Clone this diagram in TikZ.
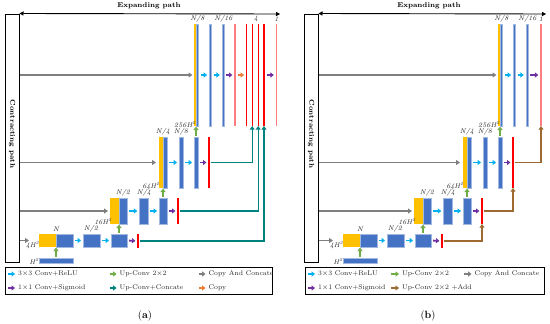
\documentclass[tikz,border=0pt]{standalone}
\usetikzlibrary{arrows.meta}
\definecolor{yel}{HTML}{FFC000}
\definecolor{blu}{HTML}{4472C4}
\definecolor{cya}{HTML}{00B0F0}
\definecolor{pur}{HTML}{7030A0}
\definecolor{grn}{HTML}{70AD47}
\definecolor{gry}{HTML}{7F7F7F}
\definecolor{tea}{HTML}{00827F}
\definecolor{ora}{HTML}{ED7D31}
\definecolor{rd}{HTML}{FF0000}
\definecolor{sal}{HTML}{FF7C80}
\definecolor{brn}{HTML}{9C6A32}
\tikzset{
  yb/.style={fill=yel, inner sep=0pt, outer sep=0pt},
  bb/.style={fill=blu, draw=blu!50!white, line width=0.4pt, inner sep=0pt, outer sep=0pt},
  rb/.style={fill=rd, inner sep=0pt, outer sep=0pt},
  sb/.style={fill=sal, inner sep=0pt, outer sep=0pt},
  sa/.style={line width=1.8pt, -{Triangle[length=3.4pt,width=5pt]}, shorten <=2pt, shorten >=2pt},
  va/.style={grn, line width=1.8pt, -{Triangle[length=3.4pt,width=5pt]}, shorten <=1.5pt, shorten >=0.6pt},
  la/.style={line width=1.8pt, -{Triangle[length=3.4pt,width=5pt]}},
  ga/.style={gry, line width=1.4pt, -{Triangle[length=4pt,width=5pt]}},
  ta/.style={tea, line width=1.3pt, -{Triangle[length=3.6pt,width=4.8pt]}},
  bra/.style={brn, line width=1.3pt, -{Triangle[length=3.6pt,width=4.8pt]}},
  lab/.style={font=\fontsize{6.8}{7.5}\selectfont\itshape, inner sep=0pt, text=black!85},
  lt/.style={font=\fontsize{6.8}{8}\selectfont, anchor=west, inner sep=0pt, text=black!85},
  ttl/.style={font=\fontsize{7}{8}\selectfont\bfseries, inner sep=0pt},
  cbox/.style={draw, line width=1pt, inner sep=0pt, minimum width=14pt, minimum height=248pt},
  lbox/.style={draw, line width=0.9pt, inner sep=0pt, minimum height=27pt},
  dbl/.style={line width=0.9pt, {Triangle[length=4pt,width=4.2pt]}-{Triangle[length=4pt,width=4.2pt]}},
  captxt/.style={font=\fontsize{10.5}{12}\selectfont, inner sep=0pt}
}
\newcommand\mk[6]{\node[#1, minimum width=#5pt, minimum height=#6pt] (#2) at (#3,#4) {};}
\newcommand\common[2]{%
  % row 4
  \mk{yb}{#1y4}{195}{75}{2}{102}
  \mk{bb}{#1b4a}{197.3}{75}{2.4}{102}
  \mk{bb}{#1b4b}{210.3}{75}{2.4}{102}
  \mk{bb}{#1b4c}{223}{75}{2.4}{102}
  % row 3
  \mk{yb}{#1y3}{161}{162.5}{4}{51}
  \mk{bb}{#1b3a}{165}{162.5}{4}{51}
  \mk{bb}{#1b3b}{181}{162.5}{4}{51}
  \mk{bb}{#1b3c}{196}{162.5}{4}{51}
  \mk{rb}{#1r3}{209}{162.5}{1.2}{51}
  % row 2
  \mk{yb}{#1y2}{114.5}{211}{9}{26}
  \mk{bb}{#1b2a}{123}{211}{8}{26}
  \mk{bb}{#1b2b}{143.5}{211}{8.5}{26}
  \mk{bb}{#1b2c}{163}{211}{8}{26}
  \mk{rb}{#1r2}{178}{211}{1.2}{26}
  % row 1
  \mk{yb}{#1y1}{47.5}{240.5}{17}{13}
  \mk{bb}{#1b1a}{64.5}{240.5}{17}{13}
  \mk{bb}{#1b1b}{91.5}{240.5}{17}{13}
  \mk{bb}{#1b1c}{119}{240.5}{16}{13}
  \mk{rb}{#1r1}{138}{241}{1.2}{14}
  \mk{bb}{#1h0}{56}{260.5}{34}{5}
  % horizontal arrows
  \draw[sa,cya] (#1b4a.east) -- (#1b4b.west);
  \draw[sa,cya] (#1b4b.east) -- (#1b4c.west);
  \draw[sa,cya] (#1b3a.east) -- (#1b3b.west);
  \draw[sa,cya] (#1b3b.east) -- (#1b3c.west);
  \draw[sa,pur] (#1b3c.east) -- (#1r3.west);
  \draw[sa,cya] (#1b2a.east) -- (#1b2b.west);
  \draw[sa,cya] (#1b2b.east) -- (#1b2c.west);
  \draw[sa,pur] (#1b2c.east) -- (#1r2.west);
  \draw[sa,cya] (#1b1a.east) -- (#1b1b.west);
  \draw[sa,cya] (#1b1b.east) -- (#1b1c.west);
  \draw[sa,pur] (#1b1c.east) -- (#1r1.west);
  % up-conv
  \draw[va] (#1h0.north) -- (#1h0.north |- #1y1.south);
  \draw[va] (#1b1c.north) -- (#1b1c.north |- #1y2.south);
  \draw[va] (#1b2c.north) -- (#1b2c.north |- #1y3.south);
  \draw[va] (#1b3c.north) -- (#1b3c.north |- #1y4.south);
  % copy and concat
  \draw[ga] (#2.east |- #1y4.west) -- ([xshift=-1.5pt]#1y4.west);
  \draw[ga] (#2.east |- #1y3.west) -- ([xshift=-3pt]#1y3.west);
  \draw[ga] (#2.east |- #1y2.west) -- ([xshift=-2pt]#1y2.west);
  \draw[ga] (#2.east |- #1y1.west) -- ([xshift=-10pt]#1y1.west);
  % labels
  \node[lab] (#1t4a) at (197.5,19) {N/8};
  \node[lab] (#1t4b) at (223.5,19) {N/16};
  \node[lab] (#1t256) at (185,124) {256H\textsuperscript{2}};
  \node[lab] (#1t3a) at (163,132) {N/4};
  \node[lab] (#1t3b) at (181,132) {N/8};
  \node[lab] (#1t64) at (151,186.5) {64H\textsuperscript{2}};
  \node[lab] (#1t2a) at (123,193) {N/2};
  \node[lab] (#1t2b) at (144,193) {N/4};
  \node[lab] (#1t16) at (103,221) {16H\textsuperscript{2}};
  \node[lab] (#1t1a) at (56,229) {N};
  \node[lab] (#1t1b) at (91,229) {N/2};
  \node[lab] (#1t4h) at (32.5,245.5) {4H\textsuperscript{2}};
  \node[lab] (#1th) at (34,261) {H\textsuperscript{2}};
}
\begin{document}
\begin{tikzpicture}[x=1pt,y=-1pt]
\useasboundingbox (0,0) rectangle (550,324);
\fill[white] (0,0) rectangle (550,324);
% ---------------- panel (a) ----------------
\node[cbox] (boxa) at (12,138) {};
\node[ttl, rotate=-90] (cta) at (12,134) {Contracting path};
\coordinate (ea) at (280,14);
\draw[dbl] (boxa.north east) -- (ea);
\node[ttl] (expa) at (149,6) {Expanding path};
\common{a}{boxa}
\mk{sb}{as4}{235.2}{75}{1.6}{102}
\mk{rb}{ar4a}{246.7}{75}{1.2}{102}
\mk{rb}{ar4b}{252.2}{75}{1.2}{102}
\mk{rb}{ar4c}{258.2}{75}{1.2}{102}
\mk{rb}{ar4d}{264}{75}{1.2}{102}
\mk{sb}{ar4e}{276.5}{75}{1.4}{102}
\draw[sa,pur] (ab4c.east) -- (as4.west);
\draw[sa,ora] (as4.east) -- (ar4a.west);
\draw[sa,pur] (ar4d.east) -- (ar4e.west);
\node[lab] (at4) at (256,19) {4};
\node[lab] (at1) at (276.5,19) {1};
\draw[ta] ([xshift=1pt]ar3.east) -| (ar4b.south);
\draw[ta] ([xshift=1pt]ar2.east) -| (ar4c.south);
\draw[ta] ([xshift=1pt]ar1.east) -| (ar4d.south);
% legend (a)
\node[lbox, minimum width=267pt] (lega) at (138.5,280.5) {};
\node[lt] (la1) at (18,274) {3$\times$3 Conv+ReLU};
\node[lt] (la2) at (119.5,274) {Up-Conv 2$\times$2};
\node[lt] (la3) at (208.5,274) {Copy And Concate};
\node[lt] (la4) at (18,288) {1$\times$1 Conv+Sigmoid};
\node[lt] (la5) at (119.5,288) {Up-Conv+Concate};
\node[lt] (la6) at (208.5,288) {Copy};
\draw[la,cya] ([xshift=-10pt]la1.west) -- ([xshift=-3pt]la1.west);
\draw[la,grn] ([xshift=-10pt]la2.west) -- ([xshift=-3pt]la2.west);
\draw[la,gry] ([xshift=-10pt]la3.west) -- ([xshift=-3pt]la3.west);
\draw[la,pur] ([xshift=-10pt]la4.west) -- ([xshift=-3pt]la4.west);
\draw[la,tea] ([xshift=-10pt]la5.west) -- ([xshift=-3pt]la5.west);
\draw[la,ora] ([xshift=-10pt]la6.west) -- ([xshift=-3pt]la6.west);
\node[captxt] (capa) at (145,316) {(\textbf{a})};
% ---------------- panel (b) ----------------
\node[cbox] (boxb) at (311,138) {};
\node[ttl, rotate=-90] (ctb) at (311,134) {Contracting path};
\coordinate (eb) at (546,14);
\draw[dbl] (boxb.north east) -- (eb);
\node[ttl] (expb) at (429,6) {Expanding path};
\begin{scope}[xshift=304pt]
\common{b}{boxb}
\mk{sb}{br4}{237}{75}{1.4}{102}
\draw[sa,pur] (bb4c.east) -- (br4.west);
\node[lab] (bt1) at (237,19) {1};
\draw[bra] ([xshift=1pt]br3.east) -| (br4.south);
\draw[bra] ([xshift=1pt]br2.east) -| (br3.south);
\draw[bra] ([xshift=1pt]br1.east) -| (br2.south);
\end{scope}
% legend (b)
\node[lbox, minimum width=239pt] (legb) at (424.5,280.5) {};
\node[lt] (lb1) at (318,274) {3$\times$3 Conv+ReLU};
\node[lt] (lb2) at (402,274) {Up-Conv 2$\times$2};
\node[lt] (lb3) at (474.5,274) {Copy And Concate};
\node[lt] (lb4) at (318,288) {1$\times$1 Conv+Sigmoid};
\node[lt] (lb5) at (402,288) {Up-Conv 2$\times$2 +Add};
\draw[la,cya] ([xshift=-10pt]lb1.west) -- ([xshift=-3pt]lb1.west);
\draw[la,grn] ([xshift=-11pt]lb2.west) -- ([xshift=-3pt]lb2.west);
\draw[la,gry] ([xshift=-11pt]lb3.west) -- ([xshift=-3pt]lb3.west);
\draw[la,pur] ([xshift=-10pt]lb4.west) -- ([xshift=-3pt]lb4.west);
\draw[la,brn] ([xshift=-11pt]lb5.west) -- ([xshift=-3pt]lb5.west);
\node[captxt] (capb) at (428,316) {(\textbf{b})};
\end{tikzpicture}
\end{document}
